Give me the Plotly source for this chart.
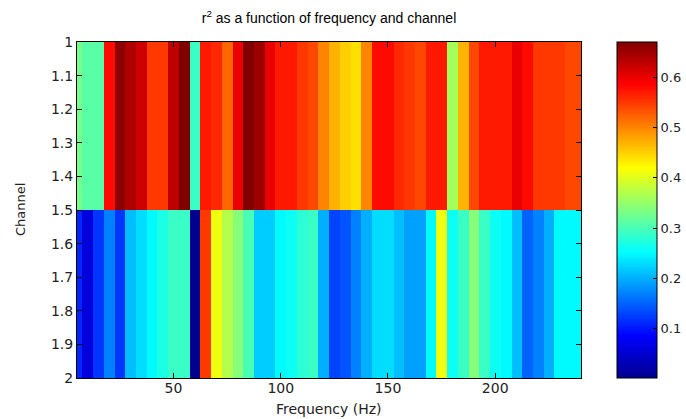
import plotly.graph_objects as go

# Frequency bin centres (Hz)
freqs = [5, 10, 15, 20, 25, 30, 35, 40, 45, 50, 55, 60, 65, 70, 75, 80,
         85, 90, 95, 100, 105, 110, 115, 120, 125, 130, 135, 140, 145, 150, 155, 160,
         165, 170, 175, 180, 185, 190, 195, 200, 205, 210, 215, 220, 225, 230, 235, 240]
channels = [1, 2]

# r^2 for channel 1
r2_ch1 = [0.33, 0.31, 0.31, 0.58, 0.66, 0.64, 0.62, 0.55, 0.55, 0.63, 0.67, 0.29, 0.57, 0.56, 0.52, 0.60,
          0.67, 0.65, 0.60, 0.57, 0.57, 0.55, 0.54, 0.50, 0.47, 0.45, 0.44, 0.50, 0.58, 0.58, 0.56, 0.55,
          0.54, 0.57, 0.57, 0.36, 0.47, 0.54, 0.57, 0.57, 0.57, 0.60, 0.58, 0.55, 0.55, 0.55, 0.54, 0.54]
# r^2 for channel 2
r2_ch2 = [0.11, 0.06, 0.12, 0.17, 0.12, 0.21, 0.23, 0.25, 0.27, 0.29, 0.29, 0.002, 0.55, 0.41, 0.37, 0.34,
          0.30, 0.22, 0.22, 0.25, 0.26, 0.28, 0.29, 0.20, 0.13, 0.14, 0.17, 0.20, 0.23, 0.23, 0.21, 0.19,
          0.19, 0.25, 0.41, 0.26, 0.29, 0.34, 0.29, 0.26, 0.25, 0.21, 0.15, 0.17, 0.20, 0.25, 0.25, 0.25]

x_tick_vals = [50, 100, 150, 200]
y_tick_vals = [1, 1.1, 1.2, 1.3, 1.4, 1.5, 1.6, 1.7, 1.8, 1.9, 2]
y_tick_text = ["1", "1.1", "1.2", "1.3", "1.4", "1.5", "1.6", "1.7", "1.8", "1.9", "2"]
cb_tick_vals = [0.1, 0.2, 0.3, 0.4, 0.5, 0.6]
cb_tick_text = ["0.1", "0.2", "0.3", "0.4", "0.5", "0.6"]

jet = [[0.0, "rgb(0,0,143)"], [0.125, "rgb(0,0,255)"], [0.375, "rgb(0,255,255)"],
       [0.625, "rgb(255,255,0)"], [0.875, "rgb(255,0,0)"], [1.0, "rgb(128,0,0)"]]

z = [r2_ch1, r2_ch2]
zmin = min(min(r2_ch1), min(r2_ch2))
zmax = max(max(r2_ch1), max(r2_ch2))

TFONT = "Liberation Sans, Arial, sans-serif"
AFONT = "DejaVu Sans, Verdana, sans-serif"

L, R, T, B = 77, 105, 42, 41
W, H = 686, 419
PW, PH = W - L - R, H - T - B

fig = go.Figure(go.Heatmap(
    x=freqs, y=channels, z=z,
    colorscale=jet, zmin=zmin, zmax=zmax,
    colorbar=dict(
        x=(617 - L) / PW, xanchor="left", xpad=0, ypad=0,
        y=0.5, yanchor="middle", len=1, lenmode="fraction",
        thickness=40, thicknessmode="pixels",
        outlinewidth=1, outlinecolor="black",
        tickvals=cb_tick_vals, ticktext=cb_tick_text,
        ticks="inside", ticklen=4, tickcolor="black",
        tickfont=dict(family=AFONT, size=13, color="#222"),
    ),
))

fig.update_layout(
    width=W, height=H,
    margin=dict(l=L, r=R, t=T, b=B, autoexpand=False),
    paper_bgcolor="white", plot_bgcolor="white",
    font=dict(family=TFONT, size=13, color="black"),
    title=dict(text="r<sup>2</sup> as a function of frequency and channel",
               x=(L + 581) / 2 / W, xanchor="center", y=1 - 18 / H, yanchor="middle",
               font=dict(family=TFONT, size=14, color="black")),
    annotations=[
        dict(text="Frequency (Hz)", xref="paper", yref="paper",
             x=0.5, y=(378 - 409) / PH, xanchor="center", yanchor="middle",
             showarrow=False, font=dict(family=AFONT, size=14, color="#222")),
        dict(text="Channel", xref="paper", yref="paper", textangle=-90,
             x=(20 - L) / PW, y=0.5, xanchor="center", yanchor="middle",
             showarrow=False, font=dict(family=AFONT, size=13, color="#222")),
    ],
)
fig.update_xaxes(range=[5, 240], tickvals=x_tick_vals, ticks="inside", ticklen=5,
                 tickcolor="black", showline=True, linecolor="black", linewidth=1,
                 mirror="allticks", showgrid=False, zeroline=False, automargin=False,
                 ticklabelstandoff=-3,
                 tickfont=dict(family=AFONT, size=14, color="#222"))
fig.update_yaxes(range=[2, 1], tickvals=y_tick_vals, ticktext=y_tick_text, ticks="inside",
                 ticklen=5, tickcolor="black", showline=True, linecolor="black", linewidth=1,
                 mirror="allticks", showgrid=False, zeroline=False, automargin=False,
                 tickfont=dict(family=AFONT, size=14, color="#222"))

fig.write_html("out.html",
               config={"displayModeBar": False},
               post_script="document.body.style.margin='0';document.body.style.padding='0';")
